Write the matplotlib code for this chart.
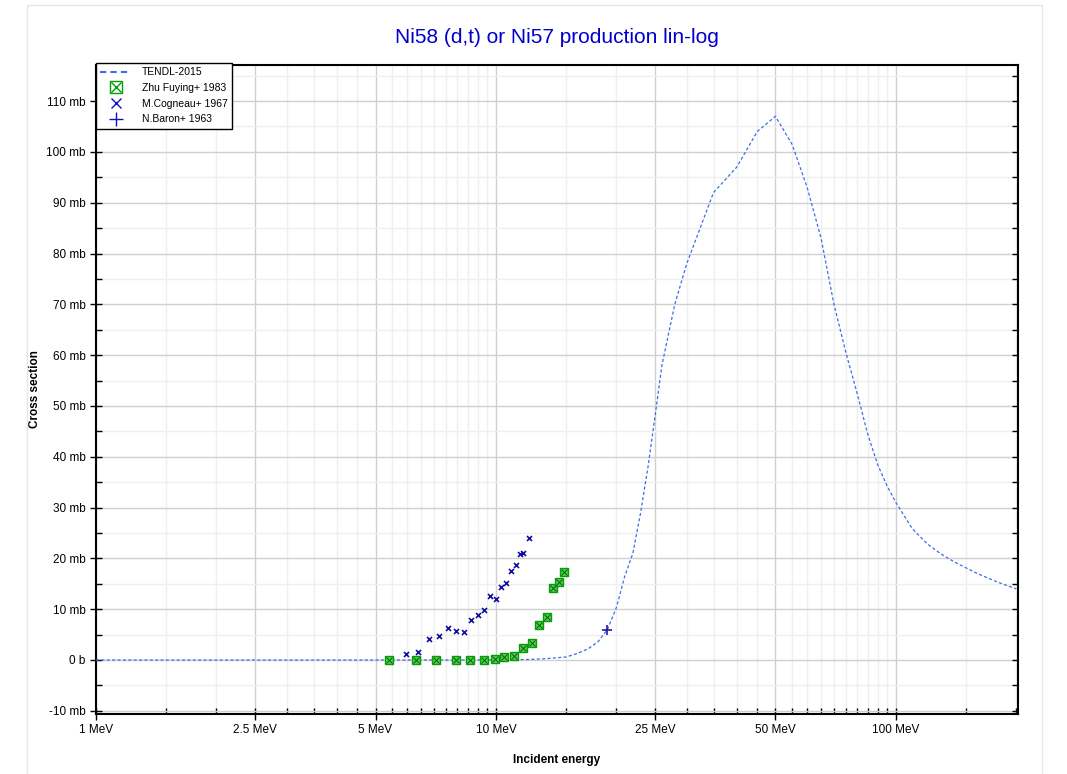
import matplotlib
matplotlib.use("Agg")
import matplotlib.pyplot as plt
from matplotlib.ticker import FixedLocator, FuncFormatter, NullFormatter
from matplotlib.legend_handler import HandlerTuple
from matplotlib.patches import Rectangle
from matplotlib.lines import Line2D

plt.rcParams['font.family'] = ['Liberation Sans', 'DejaVu Sans']

title = "Ni58 (d,t) or Ni57 production lin-log"

tendl_e = [1, 2, 5, 8, 10, 11, 12, 13, 14, 15, 16, 17, 18, 19, 20, 21, 22, 23, 24, 25,
           26, 28, 30, 35, 40, 45, 50, 55, 60, 65, 70, 75, 80, 85, 90, 95, 100, 110,
           120, 130, 140, 150, 160, 180, 200]
tendl_xs = [0, 0, 0, 0, 0.02, 0.05, 0.1, 0.2, 0.4, 0.6, 1.3, 2.2, 3.6, 6.0, 10.3, 16.5,
            21, 29, 38, 48, 58, 70, 78, 92, 97, 104, 107, 101.5, 93, 83, 70, 60.5, 52.5,
            44.5, 38.5, 34.3, 31, 25.8, 22.8, 20.8, 19.3, 18.1, 17.0, 15.3, 14.0]

zhu_e = [5.41, 6.32, 7.1, 7.93, 8.6, 9.33, 9.95, 10.5, 11.1, 11.7, 12.3, 12.8, 13.4,
         13.9, 14.4, 14.8]
zhu_xs = [0, 0, 0, 0, 0, 0, 0.2, 0.6, 0.85, 2.3, 3.4, 6.8, 8.4, 14.1, 15.3, 17.3]

cog_e = [5.95, 6.39, 6.8, 7.19, 7.58, 7.94, 8.31, 8.67, 9.0, 9.33, 9.68, 10.0, 10.3,
         10.6, 10.9, 11.2, 11.5, 11.7, 12.1]
cog_xs = [1.2, 1.5, 4.1, 4.8, 6.2, 5.7, 5.5, 7.9, 8.9, 9.8, 12.5, 12.1, 14.3, 15.1,
          17.5, 18.6, 20.8, 21.0, 24.0]

baron_e = [18.9]
baron_xs = [6.0]

x_major = [1, 2.5, 5, 10, 25, 50, 100]
x_major_labels = ["1 MeV", "2.5 MeV", "5 MeV", "10 MeV", "25 MeV", "50 MeV", "100 MeV"]
x_minor_mant = [1.5, 2, 3, 3.5, 4, 4.5, 5.5, 6, 6.5, 7, 7.5, 8, 8.5, 9, 9.5]
y_major = list(range(-10, 111, 10))
legend_labels = ['TENDL-2015', 'Zhu Fuying+ 1983', 'M.Cogneau+ 1967', 'N.Baron+ 1963']

fig = plt.figure(figsize=(10.67, 7.74), dpi=100)
fig.patches.append(Rectangle((27 / 1067, -0.05), (1042 - 27) / 1067, 1.05 - 5 / 774,
                             transform=fig.transFigure, fill=False, edgecolor='#e6e6e6',
                             linewidth=1.0, zorder=0))
ax = fig.add_axes([96 / 1067, 1 - 714 / 774, (1018 - 96) / 1067, (714 - 65) / 774])

ax.set_xscale('log')
XLIM = (1, 202)
YLIM = (-10.63, 117.1)
ax.set_xlim(*XLIM)
ax.set_ylim(*YLIM)

x_minor = [m * 10 ** k for k in range(0, 3) for m in x_minor_mant if 1 < m * 10 ** k < 202]
x_minor = [v for v in x_minor if v not in x_major]
y_minor = [v + 5 for v in y_major] + [-15]
ax.xaxis.set_major_locator(FixedLocator(x_major))
ax.xaxis.set_major_formatter(FuncFormatter(lambda v, p: x_major_labels[x_major.index(v)] if v in x_major else ""))
ax.xaxis.set_minor_locator(FixedLocator(x_minor))
ax.xaxis.set_minor_formatter(NullFormatter())

ax.yaxis.set_major_locator(FixedLocator(y_major))
ax.yaxis.set_minor_locator(FixedLocator(y_minor))
ax.yaxis.set_major_formatter(FuncFormatter(lambda v, p: "0 b" if abs(v) < 1e-9 else f"{int(round(v))} mb"))

ax.grid(which='major', color='#d0d0d0', linewidth=1.0, zorder=0)
ax.grid(which='minor', color='#efefef', linewidth=1.0, zorder=0)
ax.set_axisbelow(True)

ax.tick_params(which='major', direction='inout', length=8, width=1, labelsize=8.5, colors='black',
               top=False, right=False)
ax.tick_params(which='minor', direction='in', length=4, width=1, top=False, right=False)
for s in ax.spines.values():
    s.set_linewidth(1.5)
    s.set_color('black')

# right-side inward ticks
ax2 = ax.twinx()
ax2.set_ylim(*YLIM)
ax2.yaxis.set_major_locator(FixedLocator(y_major))
ax2.yaxis.set_minor_locator(FixedLocator(y_minor))
ax2.yaxis.set_major_formatter(NullFormatter())
ax2.tick_params(which='both', direction='in', length=4, width=1)
for s in ax2.spines.values():
    s.set_visible(False)

ax.plot(tendl_e, tendl_xs, color='#3d6ee6', linewidth=0.9, linestyle=(0, (2.5, 1.8)),
        label='TENDL-2015', zorder=3)
ax.plot(zhu_e, zhu_xs, linestyle='none', marker='s', markersize=5.5,
        markerfacecolor='#5cc85c', markeredgecolor='#00a000', markeredgewidth=1.0, zorder=4)
ax.plot(zhu_e, zhu_xs, linestyle='none', marker='x', markersize=3.8,
        markeredgecolor='#006000', markeredgewidth=0.7, zorder=5)
ax.plot(cog_e, cog_xs, linestyle='none', marker='x', markersize=3.6,
        markeredgecolor='#1010a0', markeredgewidth=1.2, zorder=5)
ax.plot(baron_e, baron_xs, linestyle='none', marker='+', markersize=7,
        markeredgecolor='#1a1aa0', markeredgewidth=1.2, zorder=5)

h_tendl = Line2D([], [], color='#3d6ee6', linewidth=1.5, linestyle=(0, (3, 2)))
h_sq = Line2D([], [], linestyle='none', marker='s', markersize=9, markerfacecolor='white',
              markeredgecolor='#00a000', markeredgewidth=1.0)
h_x = Line2D([], [], linestyle='none', marker='x', markersize=7, markeredgecolor='#00a000',
             markeredgewidth=1.0)
h_cg = Line2D([], [], linestyle='none', marker='x', markersize=7, markeredgecolor='#1010c0',
              markeredgewidth=1.0)
h_bn = Line2D([], [], linestyle='none', marker='+', markersize=10, markeredgecolor='#1010c0',
              markeredgewidth=1.0)
leg = ax2.legend([h_tendl, (h_sq, h_x), h_cg, h_bn], legend_labels,
                 handler_map={tuple: HandlerTuple(ndivide=1, pad=0)},
                 loc='upper left', bbox_to_anchor=(0, 1.003), borderaxespad=0, fontsize=7.5,
                 fancybox=False, framealpha=1, edgecolor='black', handlelength=3.0,
                 labelspacing=0.55, borderpad=0.4, handletextpad=1.0)
leg.get_frame().set_linewidth(1.0)

ax.set_title(title, color='#0000cc', fontsize=15, pad=16)
ax.set_xlabel('Incident energy', fontsize=8.5, fontweight='bold', labelpad=13)
ax.set_ylabel('Cross section', fontsize=8.5, fontweight='bold', labelpad=4)

fig.savefig('out.png', dpi=100)
